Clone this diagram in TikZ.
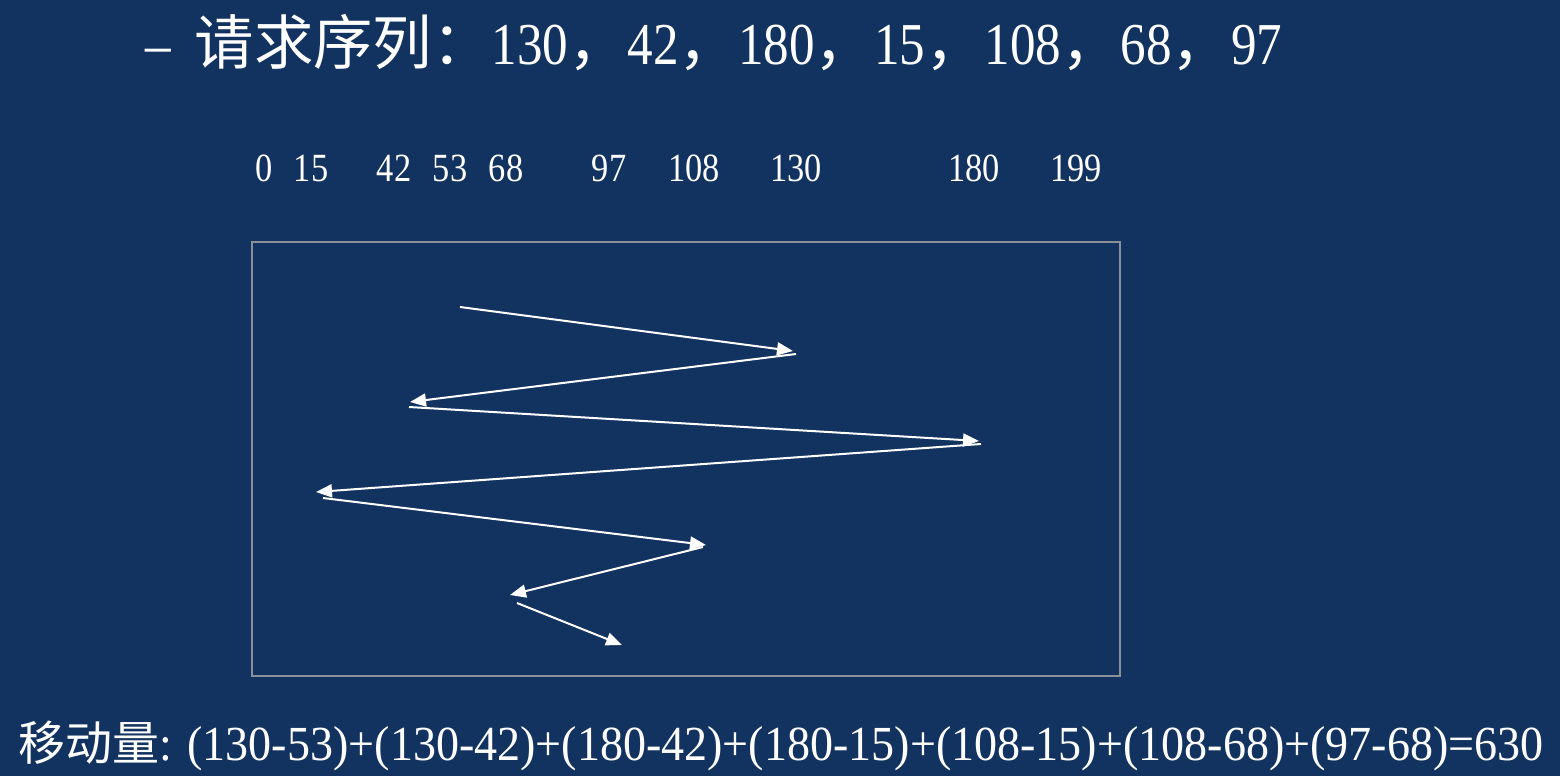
\documentclass[tikz,border=0pt]{standalone}
\usepackage{fontspec}
\setmainfont{Liberation Serif}[FakeStretch=0.86]
\newfontfamily\sumfont{Liberation Serif}[FakeStretch=0.94]
\newfontfamily\cjk{Noto Sans CJK SC}
\usetikzlibrary{arrows.meta}
\definecolor{Slide}{HTML}{12325F}
\definecolor{Frame}{HTML}{8A8F99}
\tikzset{
  arr/.style={-{Triangle[length=8pt,width=6.5pt]},line width=1pt,draw=white},
  tick/.style={anchor=base,text=white,inner sep=0pt,font=\fontsize{20}{22}\selectfont},
  textline/.style={anchor=base west,text=white,inner sep=0pt}
}
\begin{document}
\begin{tikzpicture}[x=0.5pt,y=-0.5pt]
  \fill[Slide] (0,0) rectangle (1560,776);
  \useasboundingbox (0,0) rectangle (1560,776);
  % request queue
  \node[textline,font=\fontsize{29.7}{32}\selectfont] (queue) at (145,64)
    {–\hspace{0.4em}{\cjk 请求序列：}130{\cjk ，}42{\cjk ，}180{\cjk ，}15{\cjk ，}108{\cjk ，}68{\cjk ，}97};
  % cylinder numbers
  \foreach \lbl/\xx in {0/264,15/311,42/394,53/450,68/506,97/609,108/694,130/796,180/974,199/1076}
    \node[tick] (t\lbl) at (\xx,181) {\lbl};
  % frame
  \node[draw=Frame,line width=0.8pt,minimum width=434pt,minimum height=217pt,inner sep=0pt] (frame) at (686,459) {};
  % head path
  \coordinate (s1) at (460,307); \coordinate (e1) at (793,351);
  \coordinate (s2) at (796,354); \coordinate (e2) at (410,402);
  \coordinate (s3) at (409,407); \coordinate (e3) at (979,441);
  \coordinate (s4) at (981,444); \coordinate (e4) at (316,492);
  \coordinate (s5) at (323,498); \coordinate (e5) at (706,545);
  \coordinate (s6) at (703,547); \coordinate (e6) at (510,595);
  \coordinate (s7) at (517,603); \coordinate (e7) at (622,645);
  \foreach \i in {1,...,7}
    \draw[arr] (s\i)--(e\i);
  % total
  \node[textline,font=\sumfont\fontsize{24.5}{27}\selectfont] (total) at (18,760)
    {{\cjk\fontsize{23.5}{27}\selectfont 移动量}: (130-53)+(130-42)+(180-42)+(180-15)+(108-15)+(108-68)+(97-68)=630};
\end{tikzpicture}
\end{document}
